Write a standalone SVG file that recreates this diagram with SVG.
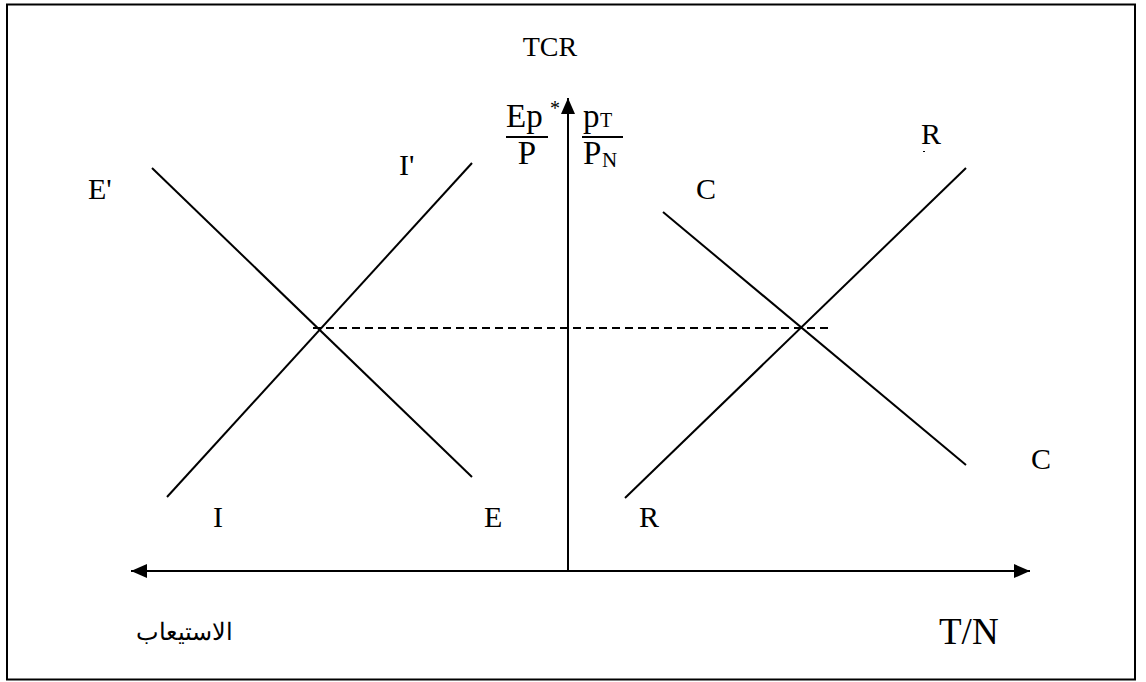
<svg xmlns="http://www.w3.org/2000/svg" width="1146" height="682" viewBox="0 0 1146 682">
<defs>
<style>
text{font-family:'Liberation Serif','Times New Roman','DejaVu Serif',serif;fill:#000}
.ln{stroke:#000;stroke-width:2;fill:none}
</style>
<marker id="ah2" viewBox="0 0 16 14" refX="16" refY="7" markerWidth="16" markerHeight="14" markerUnits="userSpaceOnUse" orient="auto">
<path d="M0,0 L16,7 L0,14 z" fill="#000"/>
</marker>
</defs>
<rect x="0" y="0" width="1146" height="682" fill="#fff"/>
<rect x="7" y="4.5" width="1128" height="675" fill="none" stroke="#000" stroke-width="2"/>
<g id="connectors">
<line class="ln" x1="568" y1="572" x2="568" y2="98" marker-end="url(#ah2)"/>
<line class="ln" x1="568" y1="571" x2="1030" y2="571" marker-end="url(#ah2)"/>
<line class="ln" x1="568" y1="571" x2="131" y2="571" marker-end="url(#ah2)"/>
<line class="ln" x1="167" y1="497" x2="472" y2="163"/>
<line class="ln" x1="152" y1="168" x2="472" y2="477"/>
<line class="ln" x1="663" y1="212" x2="966" y2="465"/>
<line class="ln" x1="625" y1="498" x2="966" y2="168"/>
<line class="ln" x1="313" y1="328" x2="828" y2="328" stroke-dasharray="8,5"/>
</g>
<g id="axis-labels" font-family="Liberation Serif, Times New Roman, serif">
<text x="550" y="56" font-size="28" text-anchor="middle">TCR</text>
<text x="506" y="127" font-size="33">Ep</text>
<text x="550" y="115" font-size="20">*</text>
<line x1="506" y1="137" x2="548" y2="137" stroke="#000" stroke-width="2"/>
<text x="527" y="164" font-size="33" text-anchor="middle">P</text>
<text x="583" y="127" font-size="33">p</text>
<text x="600" y="127" font-size="20">T</text>
<line x1="582" y1="137" x2="623" y2="137" stroke="#000" stroke-width="2"/>
<text x="583" y="164" font-size="33">P</text>
<text x="602" y="167" font-size="21">N</text>
<text x="939" y="644" font-size="37">T/N</text>
<text x="184" y="640" font-size="24" text-anchor="middle" direction="rtl" font-family="DejaVu Sans, Noto Sans, sans-serif">الاستيعاب</text>
</g>
<g id="curve-labels" font-family="Liberation Serif, Times New Roman, serif" font-size="30">
<text x="399" y="175">I'</text>
<text x="88" y="199">E'</text>
<text x="696" y="199">C</text>
<text x="921" y="144">R</text>
<rect x="923" y="151" width="2" height="1" fill="#000"/>
<text x="213" y="527">I</text>
<text x="484" y="527">E</text>
<text x="639" y="527">R</text>
<text x="1031" y="469">C</text>
</g>
</svg>
